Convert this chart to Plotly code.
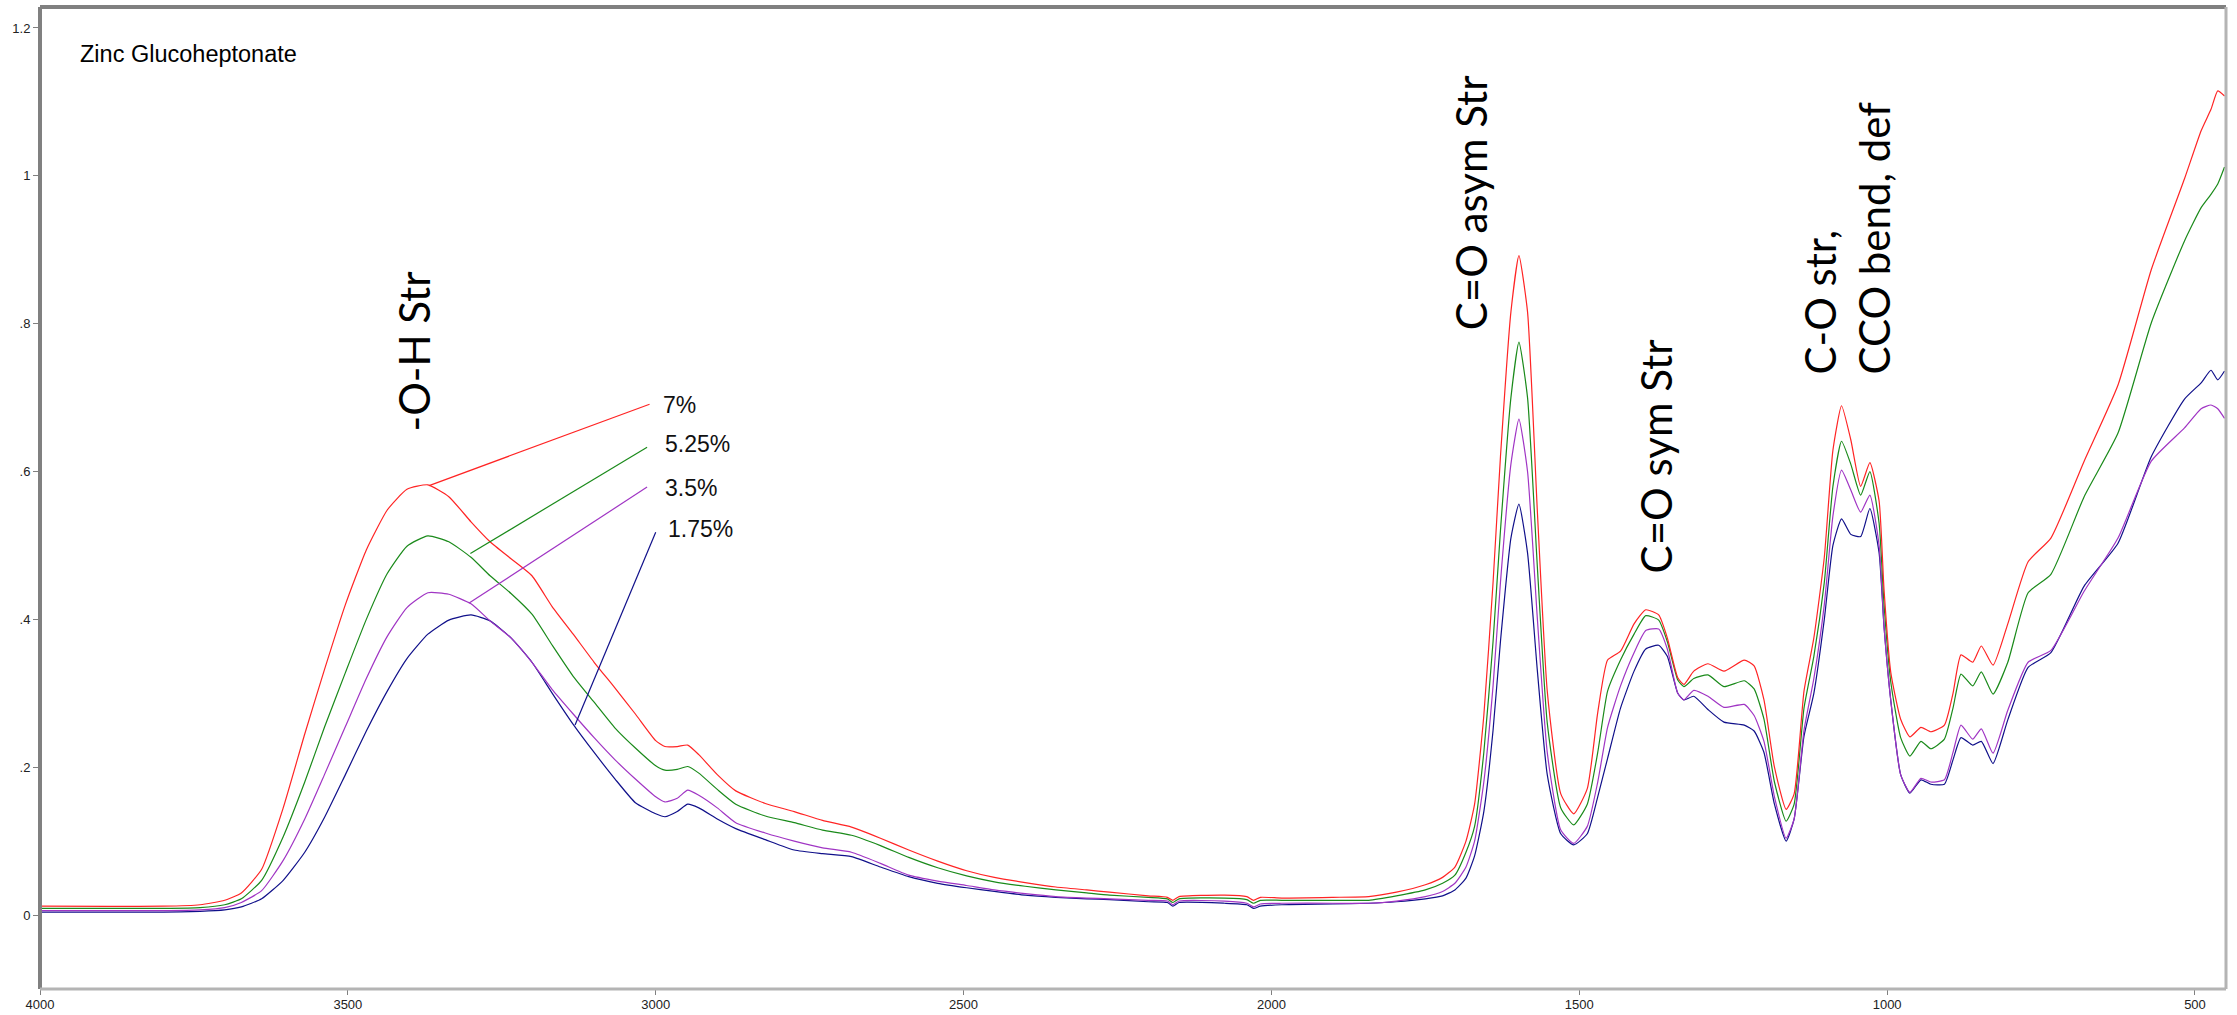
import glob
import struct
import plotly.graph_objects as go

# Wavenumber grid (cm-1)
wavenumber = [4000, 3800, 3740, 3700, 3673, 3640, 3605, 3570, 3538, 3504, 3470, 3436, 3404, 3370,
              3336, 3300, 3269, 3235, 3201, 3168, 3134, 3100, 3066, 3033, 3000, 2985, 2965, 2948,
              2930, 2900, 2870, 2822, 2775, 2729, 2682, 2635, 2589, 2542, 2495, 2450, 2400, 2350,
              2300, 2263, 2200, 2169, 2160, 2150, 2076, 2040, 2029, 2018, 1983, 1900, 1842, 1797,
              1750, 1722, 1702, 1684, 1670, 1655, 1640, 1628, 1611, 1598, 1584, 1568, 1552, 1530,
              1509, 1487, 1470, 1454, 1433, 1411, 1392, 1371, 1357, 1340, 1330, 1314, 1291, 1265,
              1232, 1216, 1200, 1183, 1164, 1151, 1135, 1119, 1102, 1088, 1074, 1059, 1043, 1028,
              1013, 1005, 994, 978, 963, 945, 929, 907, 893, 880, 861, 847, 828, 804, 771, 734,
              680, 625, 571, 517, 490, 474, 463, 452]

abs_7 = [0.012, 0.012, 0.014, 0.020, 0.030, 0.062, 0.145, 0.245, 0.332, 0.420, 0.494, 0.548, 0.576, 0.582,
         0.566, 0.532, 0.505, 0.482, 0.459, 0.417, 0.380, 0.342, 0.307, 0.272, 0.236, 0.228, 0.228, 0.230,
         0.217, 0.190, 0.168, 0.151, 0.140, 0.128, 0.119, 0.104, 0.088, 0.073, 0.060, 0.051, 0.044, 0.038,
         0.034, 0.031, 0.026, 0.024, 0.020, 0.025, 0.027, 0.025, 0.020, 0.024, 0.023, 0.024, 0.025, 0.031,
         0.041, 0.051, 0.065, 0.100, 0.150, 0.270, 0.450, 0.620, 0.816, 0.892, 0.816, 0.545, 0.303, 0.164,
         0.137, 0.171, 0.274, 0.345, 0.357, 0.394, 0.413, 0.406, 0.375, 0.321, 0.312, 0.330, 0.340, 0.330,
         0.345, 0.337, 0.291, 0.200, 0.143, 0.164, 0.303, 0.375, 0.484, 0.629, 0.689, 0.643, 0.580, 0.612,
         0.560, 0.440, 0.328, 0.265, 0.241, 0.254, 0.248, 0.257, 0.300, 0.352, 0.342, 0.364, 0.338, 0.394, 0.478, 0.510,
         0.614, 0.717, 0.873, 0.996, 1.061, 1.090, 1.115, 1.108]

abs_525 = [0.009, 0.009, 0.010, 0.014, 0.022, 0.047, 0.106, 0.180, 0.254, 0.328, 0.400, 0.462, 0.499, 0.513,
           0.505, 0.484, 0.459, 0.435, 0.407, 0.365, 0.323, 0.288, 0.253, 0.226, 0.202, 0.196, 0.197, 0.201,
           0.192, 0.170, 0.150, 0.134, 0.125, 0.115, 0.108, 0.094, 0.078, 0.064, 0.053, 0.045, 0.039, 0.034,
           0.030, 0.027, 0.024, 0.022, 0.017, 0.022, 0.023, 0.021, 0.016, 0.020, 0.020, 0.020, 0.020, 0.026,
           0.034, 0.043, 0.054, 0.085, 0.120, 0.220, 0.370, 0.520, 0.700, 0.775, 0.700, 0.470, 0.260, 0.145,
           0.122, 0.150, 0.220, 0.303, 0.345, 0.380, 0.405, 0.399, 0.370, 0.318, 0.309, 0.320, 0.325, 0.309,
           0.317, 0.306, 0.265, 0.180, 0.127, 0.150, 0.280, 0.350, 0.450, 0.580, 0.641, 0.610, 0.568, 0.600,
           0.530, 0.420, 0.315, 0.240, 0.215, 0.235, 0.225, 0.238, 0.280, 0.326, 0.310, 0.329, 0.299, 0.342, 0.436, 0.461,
           0.566, 0.652, 0.801, 0.912, 0.957, 0.975, 0.989, 1.012]

abs_35 = [0.006, 0.006, 0.007, 0.010, 0.017, 0.033, 0.074, 0.130, 0.190, 0.255, 0.320, 0.377, 0.416, 0.436,
          0.434, 0.421, 0.398, 0.375, 0.342, 0.305, 0.272, 0.240, 0.210, 0.184, 0.160, 0.153, 0.158, 0.169,
          0.162, 0.145, 0.125, 0.111, 0.100, 0.091, 0.085, 0.070, 0.054, 0.046, 0.040, 0.034, 0.029, 0.025,
          0.023, 0.022, 0.020, 0.019, 0.014, 0.019, 0.019, 0.016, 0.011, 0.015, 0.016, 0.016, 0.016, 0.019,
          0.025, 0.032, 0.043, 0.065, 0.100, 0.180, 0.310, 0.450, 0.610, 0.671, 0.600, 0.400, 0.220, 0.115,
          0.097, 0.120, 0.180, 0.254, 0.310, 0.355, 0.385, 0.387, 0.360, 0.300, 0.291, 0.304, 0.296, 0.281,
          0.285, 0.270, 0.235, 0.160, 0.104, 0.130, 0.250, 0.320, 0.420, 0.540, 0.602, 0.575, 0.545, 0.568,
          0.500, 0.390, 0.290, 0.190, 0.166, 0.185, 0.180, 0.183, 0.220, 0.257, 0.238, 0.252, 0.219, 0.277, 0.342, 0.358,
          0.438, 0.510, 0.614, 0.659, 0.685, 0.690, 0.685, 0.672]

abs_175 = [0.004, 0.004, 0.005, 0.007, 0.011, 0.022, 0.047, 0.085, 0.132, 0.190, 0.249, 0.303, 0.347, 0.380,
           0.399, 0.406, 0.398, 0.375, 0.342, 0.300, 0.258, 0.220, 0.184, 0.152, 0.137, 0.133, 0.140, 0.150,
           0.145, 0.130, 0.117, 0.102, 0.088, 0.083, 0.079, 0.065, 0.052, 0.043, 0.037, 0.032, 0.027, 0.024,
           0.022, 0.021, 0.018, 0.017, 0.012, 0.017, 0.016, 0.014, 0.009, 0.012, 0.014, 0.015, 0.016, 0.018,
           0.022, 0.026, 0.034, 0.050, 0.080, 0.140, 0.250, 0.370, 0.510, 0.556, 0.490, 0.330, 0.190, 0.110,
           0.095, 0.110, 0.160, 0.212, 0.280, 0.330, 0.360, 0.365, 0.350, 0.300, 0.291, 0.296, 0.278, 0.261,
           0.257, 0.249, 0.220, 0.150, 0.100, 0.130, 0.242, 0.300, 0.400, 0.500, 0.536, 0.515, 0.512, 0.550,
           0.490, 0.390, 0.290, 0.190, 0.165, 0.183, 0.177, 0.177, 0.210, 0.240, 0.230, 0.235, 0.205, 0.264, 0.335, 0.355,
           0.445, 0.503, 0.620, 0.698, 0.720, 0.737, 0.724, 0.736]

series_names = ["1.75%", "3.5%", "5.25%", "7%"]
series_values = [abs_175, abs_35, abs_525, abs_7]
series_colors = ["#10108a", "#a035c4", "#1a8a1a", "#ff2424"]

x_ticks = [4000, 3500, 3000, 2500, 2000, 1500, 1000, 500]
y_ticks = [0, 0.2, 0.4, 0.6, 0.8, 1.0, 1.2]
y_tick_labels = ["0", ".2", ".4", ".6", ".8", "1", "1.2"]

# concentration labels and leader lines (wavenumber, absorbance)
label_texts = ["7%", "5.25%", "3.5%", "1.75%"]
label_colors = ["#ff2424", "#1a8a1a", "#a035c4", "#10108a"]
label_pos = [(2991, 0.690), (2988, 0.637), (2988, 0.578), (2983, 0.522)]
leader_start = [(3368, 0.581), (3301, 0.489), (3303, 0.422), (3131, 0.257)]
leader_end = [(3010, 0.691), (3014, 0.633), (3014, 0.579), (3000, 0.518)]

band_texts = ["-O-H Str", "C=O asym Str", "C=O sym Str", "C-O str,<br>CCO bend, def"]
band_pos = [(3392, 0.652), (1676, 0.789), (1376, 0.459), (1065, 0.728)]


def _em_width(path, text):
    """Sum of advance widths (in em) of text in a TrueType font."""
    with open(path, "rb") as f:
        data = f.read()
    num = struct.unpack(">H", data[4:6])[0]
    tables = {}
    for i in range(num):
        tag, _cs, off, ln = struct.unpack(">4sIII", data[12 + 16 * i:28 + 16 * i])
        tables[tag.decode("latin1")] = off
    upem = struct.unpack(">H", data[tables["head"] + 18:tables["head"] + 20])[0]
    nhm = struct.unpack(">H", data[tables["hhea"] + 34:tables["hhea"] + 36])[0]
    hoff = tables["hmtx"]
    adv = [struct.unpack(">H", data[hoff + 4 * i:hoff + 4 * i + 2])[0] for i in range(nhm)]
    coff = tables["cmap"]
    n = struct.unpack(">H", data[coff + 2:coff + 4])[0]
    sub = None
    for i in range(n):
        pid, eid, so = struct.unpack(">HHI", data[coff + 4 + 8 * i:coff + 12 + 8 * i])
        fmt = struct.unpack(">H", data[coff + so:coff + so + 2])[0]
        if fmt == 4 and pid in (0, 3):
            sub = coff + so
            break
    segx2 = struct.unpack(">H", data[sub + 6:sub + 8])[0]
    seg = segx2 // 2
    ends = struct.unpack(">%dH" % seg, data[sub + 14:sub + 14 + segx2])
    starts = struct.unpack(">%dH" % seg, data[sub + 16 + segx2:sub + 16 + 2 * segx2])
    deltas = struct.unpack(">%dh" % seg, data[sub + 16 + 2 * segx2:sub + 16 + 3 * segx2])
    rpos = sub + 16 + 3 * segx2
    roffs = struct.unpack(">%dH" % seg, data[rpos:rpos + segx2])

    def gid(c):
        for i in range(seg):
            if starts[i] <= c <= ends[i]:
                if roffs[i] == 0:
                    return (c + deltas[i]) & 0xFFFF
                addr = rpos + 2 * i + roffs[i] + 2 * (c - starts[i])
                g = struct.unpack(">H", data[addr:addr + 2])[0]
                return (g + deltas[i]) & 0xFFFF if g else 0
        return 0

    return sum(adv[min(gid(ord(ch)), nhm - 1)] for ch in text) / upem


# size the band labels so their length matches the original (Calibri ~47.5 px)
band_font_size = 44
try:
    cands = glob.glob("/usr/share/fonts/**/Lato-Regular.ttf", recursive=True)
    if cands:
        targets = [("C=O asym Str", 257), ("C=O sym Str", 232), ("CCO bend, def", 277)]
        sizes = [t / _em_width(cands[0], s) for s, t in targets]
        est = sum(sizes) / len(sizes)
        if 30 < est < 60:
            band_font_size = est
except Exception:
    pass

fig = go.Figure()
for name, vals, col in zip(series_names, series_values, series_colors):
    fig.add_trace(go.Scatter(x=wavenumber, y=vals, mode="lines", name=name,
                             line=dict(color=col, width=1.2, shape="spline", smoothing=0.5)))

for (x0, y0), (x1, y1), col in zip(leader_start, leader_end, label_colors):
    fig.add_shape(type="line", xref="x", yref="y", x0=x0, y0=y0, x1=x1, y1=y1,
                  line=dict(color=col, width=1.2))

for txt, (x, y) in zip(label_texts, label_pos):
    fig.add_annotation(x=x, y=y, xref="x", yref="y", text=txt, showarrow=False,
                       xanchor="left", yanchor="middle",
                       font=dict(family="Liberation Sans, Arial", size=23, color="#111111"))

for txt, (x, y) in zip(band_texts, band_pos):
    fig.add_annotation(x=x, y=y, xref="x", yref="y", text=txt, showarrow=False,
                       textangle=-90, xanchor="center", yanchor="bottom", align="left",
                       font=dict(family="Lato, Open Sans", size=band_font_size, color="#000000"))

fig.add_annotation(x=3938, y=1.165, xref="x", yref="y", text="Zinc Glucoheptonate",
                   showarrow=False, xanchor="left", yanchor="middle",
                   font=dict(family="Liberation Sans, Arial", size=23.5, color="#000000"))

# frame (bevelled look)
fig.add_shape(type="line", xref="paper", yref="paper", x0=0, x1=0, y0=0, y1=1,
              line=dict(color="#808080", width=4), layer="above")
fig.add_shape(type="line", xref="paper", yref="paper", x0=0, x1=1, y0=1, y1=1,
              line=dict(color="#808080", width=4), layer="above")
fig.add_shape(type="line", xref="paper", yref="paper", x0=1, x1=1, y0=0, y1=1,
              line=dict(color="#b4b4b4", width=3), layer="above")
fig.add_shape(type="line", xref="paper", yref="paper", x0=0, x1=1, y0=0, y1=0,
              line=dict(color="#b4b4b4", width=3), layer="above")

fig.update_layout(
    width=2237, height=1015,
    margin=dict(l=40, r=11, t=7, b=26),
    paper_bgcolor="white", plot_bgcolor="white",
    showlegend=False,
    xaxis=dict(range=[4000, 449.6], tickvals=x_ticks, ticktext=[str(v) for v in x_ticks],
               showgrid=False, zeroline=False, showline=False, ticks="outside", ticklen=5,
               tickcolor="#808080", tickwidth=1, automargin=False, ticklabelstandoff=-2,
               tickfont=dict(family="Liberation Sans, Arial", size=13, color="#222222")),
    yaxis=dict(range=[-0.1, 1.2284], tickvals=y_ticks, ticktext=y_tick_labels,
               showgrid=False, zeroline=False, showline=False, ticks="outside", ticklen=6,
               tickcolor="#808080", tickwidth=1, automargin=False,
               tickfont=dict(family="Liberation Sans, Arial", size=13, color="#222222")),
)

fig.write_html(
    "out.html",
    config={"displayModeBar": False},
    post_script="document.body.style.margin='0';document.body.style.overflow='hidden';",
)
